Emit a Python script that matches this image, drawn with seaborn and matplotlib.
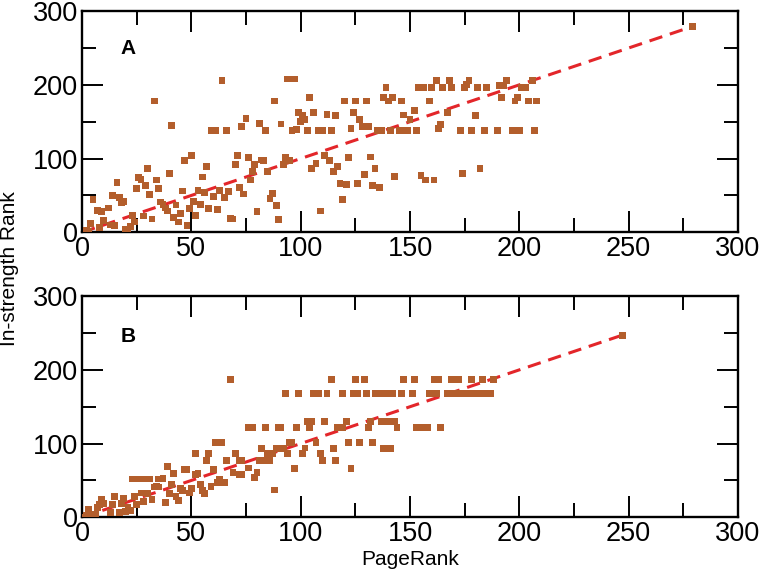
import matplotlib
matplotlib.use("Agg")
import pandas as pd
import matplotlib.pyplot as plt
from matplotlib.ticker import MultipleLocator
import seaborn as sns

# panel A: PageRank rank vs in-strength rank
a_x = [64, 33, 41, 94, 97, 88, 75, 73, 81, 91, 59, 61, 66, 84, 96, 98, 50, 47, 57, 71,
       70, 76, 79, 82, 83, 78, 77, 85, 93, 95, 92, 40, 30, 26, 27, 34, 16, 29, 25, 35,
       31, 55, 53, 46, 56, 63, 67, 72, 74, 60, 65, 87, 86, 89, 90, 80, 14, 17, 19, 18,
       5, 7, 9, 12, 36, 37, 39, 38, 43, 51, 54, 49, 58, 62, 52, 45, 42, 44, 48, 28,
       32, 23, 24, 68, 69, 10, 4, 13, 15, 8, 20, 22, 21, 3, 2,
       162, 168, 177, 176, 194, 193, 191, 206, 139,
       154, 156, 160, 165, 169, 175, 181, 185, 201, 203,
       104, 138, 140, 142, 146, 159, 192, 198, 199, 204, 208, 120, 125, 130,
       106, 112, 116, 124, 127, 99, 101, 102, 100,
       152, 147, 150, 180, 167, 164, 163, 128, 131, 123,
       103, 108, 110, 114, 135, 137, 141, 145, 147, 149, 153, 173, 178, 184, 190, 197, 200, 207,
       111, 113, 107, 105, 117, 115, 122, 132, 134, 129, 118, 121, 126, 133, 136, 143, 155, 157,
       161, 174, 182, 119, 109, 279]
a_y = [206, 178, 145, 208, 208, 178, 154, 144, 148, 147, 138, 138, 138, 138, 138, 139, 104, 97, 89, 104,
       92, 101, 92, 98, 97, 82, 71, 82, 101, 97, 92, 80, 86, 74, 72, 71, 68, 63, 59, 59,
       51, 75, 57, 56, 54, 57, 55, 61, 52, 49, 47, 53, 46, 36, 17, 28, 50, 47, 42, 40,
       44, 30, 28, 33, 41, 38, 29, 33, 37, 42, 38, 32, 32, 31, 23, 25, 20, 14, 9, 22,
       18, 23, 14, 19, 18, 16, 12, 10, 9, 6, 4, 8, 3, 1, 3,
       206, 206, 206, 200, 206, 199, 199, 206, 196,
       196, 196, 196, 196, 196, 196, 196, 196, 196, 196,
       183, 183, 178, 183, 178, 178, 183, 178, 183, 178, 178, 178, 178, 178,
       163, 160, 158, 163, 153, 163, 158, 153, 150,
       165, 159, 153, 158, 163, 146, 141, 144, 144, 141,
       138, 138, 138, 138, 138, 138, 138, 138, 138, 138, 138, 138, 138, 138, 138, 138, 138, 138,
       104, 97, 93, 87, 89, 83, 101, 102, 86, 78, 66, 65, 66, 64, 61, 76, 77, 71,
       71, 80, 86, 45, 29, 279]

# panel B
b_x = [68, 93, 99, 76, 78, 84, 90, 91, 98, 61, 64, 95, 96, 52, 58, 57, 66, 70, 72, 73,
       69, 72, 73, 76, 82, 85, 87, 89, 92, 94, 81, 83, 86, 80, 79, 97, 88, 39, 47, 48,
       42, 23, 26, 29, 31, 35, 37, 52, 53, 60, 63, 62, 65, 54, 59, 41, 34, 33, 35, 45,
       46, 50, 55, 56, 43, 44, 49, 40, 38, 30, 27, 32, 28, 24, 15, 19, 18, 9, 10, 8,
       14, 25, 7, 3, 21, 22, 20, 17, 13, 6, 2, 4, 0,
       114, 125, 129, 147, 152, 161, 163, 169, 172, 178, 183, 188,
       106, 108, 112, 119, 124, 126, 130, 134, 136, 139, 142, 146, 151, 159, 162, 167,
       170, 173, 176, 179, 182, 185, 187,
       103, 105, 111, 121, 132, 137, 140, 143,
       104, 117, 119, 131, 144, 153, 155, 158, 164,
       107, 122, 127, 133, 102, 115, 101, 109, 110, 116, 138, 141, 123, 247]
b_y = [187, 168, 168, 122, 122, 122, 122, 122, 122, 101, 101, 101, 101, 86, 86, 77, 77, 86, 77, 77,
       61, 58, 58, 67, 93, 86, 86, 93, 93, 87, 77, 77, 77, 61, 54, 66, 37, 69, 65, 65,
       59, 52, 52, 52, 52, 52, 53, 58, 59, 65, 52, 47, 47, 44, 42, 44, 42, 41, 41, 39,
       36, 39, 36, 32, 28, 23, 33, 32, 20, 32, 33, 24, 21, 28, 28, 26, 19, 24, 19, 17,
       17, 17, 13, 11, 13, 9, 8, 6, 6, 4, 3, 3, 0,
       187, 187, 187, 187, 187, 187, 187, 187, 187, 187, 187, 187,
       168, 168, 168, 168, 168, 168, 168, 168, 168, 168, 168, 168, 168, 168, 168, 168,
       168, 168, 168, 168, 168, 168, 168,
       130, 130, 130, 130, 130, 130, 130, 130,
       122, 122, 122, 122, 122, 122, 122, 122, 122,
       101, 102, 101, 101, 94, 93, 86, 86, 77, 77, 93, 93, 66, 247]

# dashed y = x guide lines
a_fit = [0, 279]
b_fit = [0, 247]

POINT = "#b35e2c"
LINE = "#e3262a"

sns.set_theme(style="ticks")
plt.rcParams["font.family"] = ["Liberation Sans", "DejaVu Sans"]

fig = plt.figure(figsize=(7.61, 5.73), dpi=100)
ax_a = fig.add_axes([0.1078, 0.5946, 0.862, 0.386])
ax_b = fig.add_axes([0.1078, 0.0972, 0.862, 0.386])

panels = [(ax_a, a_x, a_y, a_fit, "A", 0.831), (ax_b, b_x, b_y, b_fit, "B", 0.816)]
for ax, xs, ys, fit, tag, ty in panels:
    df = pd.DataFrame({"PageRank": xs, "In-strength Rank": ys})
    sns.lineplot(x=fit, y=fit, ax=ax, color=LINE, linewidth=2.2,
                 linestyle=(0, (4.4, 2.6)), zorder=2)
    sns.scatterplot(data=df, x="PageRank", y="In-strength Rank", ax=ax,
                    marker="s", s=24, color=POINT, edgecolor="none",
                    linewidth=0, zorder=3)
    ax.set_xlim(0, 300)
    ax.set_ylim(0, 300)
    ax.xaxis.set_major_locator(MultipleLocator(50))
    ax.xaxis.set_minor_locator(MultipleLocator(25))
    ax.yaxis.set_major_locator(MultipleLocator(100))
    ax.yaxis.set_minor_locator(MultipleLocator(50))
    ax.tick_params(which="both", direction="in", top=True, right=True,
                   color="black", width=1.4, labelsize=19.5, labelcolor="black", pad=3)
    ax.tick_params(which="major", length=15)
    ax.tick_params(which="minor", length=10)
    for sp in ax.spines.values():
        sp.set_color("black")
        sp.set_linewidth(1.7)
    ax.set_xlabel("")
    ax.set_ylabel("")
    ax.text(0.070, ty, tag, transform=ax.transAxes, ha="center", va="center",
            fontsize=15, fontweight="bold", color="black")

fig.text(0.539, 0.0227, "PageRank", ha="center", va="center", fontsize=15, color="black")
fig.text(0.013, 0.532, "In-strength Rank", rotation=90, ha="center", va="center",
         fontsize=15, color="black")

fig.savefig("out.png", dpi=100)
plt.close(fig)
